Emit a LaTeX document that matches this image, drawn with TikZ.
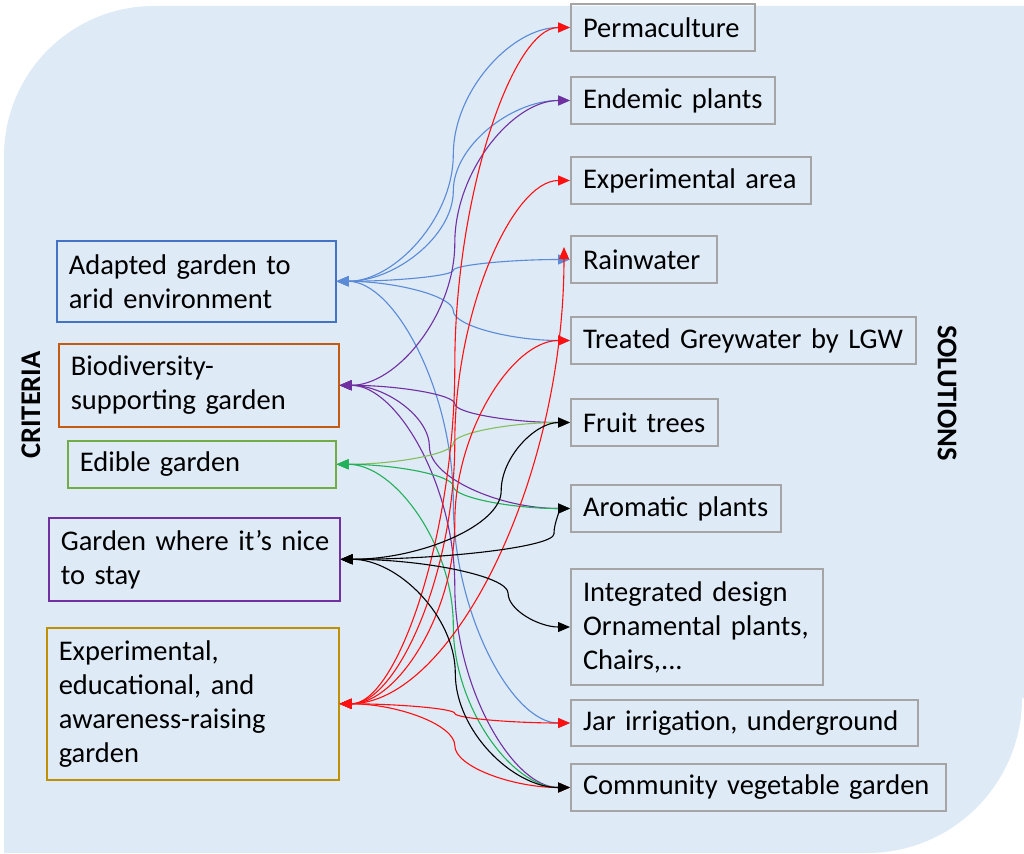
\documentclass[tikz,border=0pt]{standalone}
\usepackage{fontspec}
\setmainfont{Carlito}
\usetikzlibrary{arrows.meta,calc}
\definecolor{bgc}{HTML}{DEEAF6}
\definecolor{cblue}{HTML}{4472C4}
\definecolor{lblue}{HTML}{5B8AD6}
\definecolor{corange}{HTML}{C55A11}
\definecolor{cgreen}{HTML}{70AD47}
\definecolor{cpurple}{HTML}{7030A0}
\definecolor{cgold}{HTML}{BF9000}
\definecolor{cgray}{HTML}{A5A5A5}
\definecolor{lgreen}{HTML}{86BE5E}
\definecolor{tgreen}{HTML}{22B05A}
\definecolor{cred}{HTML}{FF1010}
\newcommand\curv[4][0.5]{%
  \draw[link,#2] (#3) let \p1=(#3), \p2=(#4) in
  .. controls ({\x1+#1/2*(\x2-\x1)},\y1) and ({\x1+#1*(\x2-\x1)},{0.75*\y1+0.25*\y2})
  .. ({\x1+#1*(\x2-\x1)},{0.5*\y1+0.5*\y2})
  .. controls ({\x1+#1*(\x2-\x1)},{0.25*\y1+0.75*\y2}) and ({\x1+(1+#1)/2*(\x2-\x1)},\y2)
  .. (\p2);}
\tikzset{
  link/.style={line width=1.1pt, {Triangle[length=12pt,width=10pt]}-{Triangle[length=12pt,width=10pt]}},
  box/.style={anchor=north west, inner xsep=12pt, inner ysep=0pt, align=left,
    font=\fontsize{28.5}{34}\selectfont},
  crit/.style={box, draw, line width=1.6pt},
  sol/.style={box, draw=cgray, line width=2pt},
  title/.style={font=\fontsize{28.5}{34}\selectfont\bfseries}
}
\begin{document}
\begin{tikzpicture}[x=1pt,y=-1pt]
\useasboundingbox (0,0) rectangle (1024,853);
\fill[white] (0,0) rectangle (1024,853);
\fill[bgc] (4,853) -- (4,156) .. controls (4,73.2) and (71.2,6) .. (154,6)
  -- (1030,6) -- (1030,698) -- (1022,698) .. controls (1022,783.6) and (952.6,853) .. (867,853) -- cycle;

% criteria
\node[crit, draw=cblue, minimum width=279pt, minimum height=81pt, text width=255pt] (A) at (56,240) {Adapted garden to\\arid environment};
\node[crit, draw=corange, minimum width=280pt, minimum height=83pt, text width=256pt] (B) at (58,343) {Biodiversity-\\supporting garden};
\node[crit, draw=cgreen, minimum width=268pt, minimum height=47pt, text width=244pt] (C) at (67,440) {Edible garden};
\node[crit, draw=cpurple, minimum width=291pt, minimum height=83pt, text width=267pt] (D) at (48,517) {Garden~where~it\symbol{39}s~nice\\to stay};
\node[crit, draw=cgold, minimum width=292pt, minimum height=152pt, text width=268pt] (E) at (46,627) {Experimental,\\educational, and\\awareness-raising\\garden};

% solutions
\node[sol, minimum width=184pt, minimum height=47pt, text width=160pt] (perm) at (570,3) {Permaculture};
\node[sol, minimum width=204pt, minimum height=47pt, text width=180pt] (endem) at (570,76) {Endemic plants};
\node[sol, minimum width=240pt, minimum height=47pt, text width=216pt] (exparea) at (570,156) {Experimental area};
\node[sol, minimum width=146pt, minimum height=47pt, text width=122pt] (rain) at (570,235) {Rainwater};
\node[sol, minimum width=345pt, minimum height=47pt, text width=321pt] (treat) at (570,316) {Treated~Greywater~by~LGW};
\node[sol, minimum width=147pt, minimum height=47pt, text width=123pt] (fruit) at (570,398) {Fruit trees};
\node[sol, minimum width=210pt, minimum height=47pt, text width=186pt] (arom) at (570,484) {Aromatic plants};
\node[sol, minimum width=252pt, minimum height=116pt, text width=228pt] (integ) at (570,568) {Integrated design\\Ornamental plants,\\Chairs,...};
\node[sol, minimum width=347pt, minimum height=46pt, text width=323pt] (jar) at (570,699) {Jar~irrigation,~underground};
\node[sol, minimum width=375pt, minimum height=47pt, text width=351pt] (comm) at (570,763) {Community~vegetable~garden};

\node[title, rotate=90] (crittitle) at (31,405) {CRITERIA};
\node[title, rotate=-90] (soltitle) at (947,393) {SOLUTIONS};

% blue
\curv{lblue}{A.east}{perm.west}
\curv{lblue}{A.east}{endem.west}
\curv{lblue}{A.east}{rain.west}
\curv{lblue}{A.east}{treat.west}
\curv{lblue}{A.east}{jar.west}
% purple
\curv{cpurple}{B.east}{endem.west}
\curv{cpurple}{B.east}{fruit.west}
\curv[0.39]{cpurple}{B.east}{arom.west}
\curv{cpurple}{B.east}{comm.west}
% green
\curv{lgreen}{C.east}{fruit.west}
\curv{tgreen}{C.east}{arom.west}
\curv{tgreen}{C.east}{comm.west}
% red
\curv{cred}{E.east}{perm.west}
\curv{cred}{E.east}{exparea.west}
\coordinate (rainin) at (564,247);
\draw[link,cred] (E.east) .. controls (452,703) and (564,480) .. (rainin);
\curv{cred}{E.east}{treat.west}
\curv{cred}{E.east}{jar.west}
\curv{cred}{E.east}{comm.west}
% black
\curv[0.7]{black}{D.east}{fruit.west}
\curv[0.93]{black}{D.east}{arom.west}
\curv[0.73]{black}{D.east}{integ.west}
\curv{black}{D.east}{comm.west}
\end{tikzpicture}
\end{document}
